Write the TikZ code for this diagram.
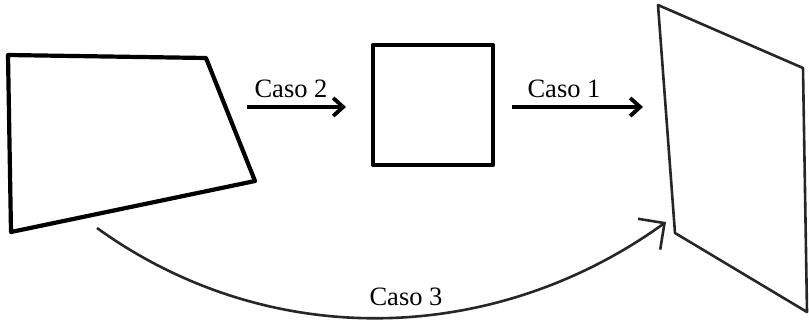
\documentclass[tikz,border=0pt]{standalone}
\usepackage{fontspec}
\setmainfont{Liberation Serif}
\usetikzlibrary{arrows.meta}
\begin{document}
\begin{tikzpicture}[x=1pt,y=-1pt,
  outline/.style={line width=4.2pt,line join=round},
  thinoutline/.style={line width=2.6pt,line join=round,draw=black!85},
  thickarrow/.style={line width=3.8pt,-{Straight Barb[length=10pt,width=18pt]}},
  curvearrow/.style={line width=2.6pt,draw=black!85,-{Straight Barb[length=19pt,width=38pt]}},
  lbl/.style={font=\fontsize{26.5}{28}\selectfont,inner sep=0pt}]
\useasboundingbox (0,0) rectangle (809,324);

% left quadrilateral
\draw[outline] (8,55) coordinate (L1) -- (206,58) coordinate (L2)
  -- (255,181) coordinate (L3) -- (11,232) coordinate (L4) -- cycle;

% square in the middle
\draw[outline,line width=4.6pt] (373,45) coordinate (S1) rectangle (493,165) coordinate (S2);

% right, tilted quadrilateral
\draw[thinoutline] (658,5) coordinate (R1) -- (803,68) coordinate (R2)
  -- (807,312) coordinate (R3) -- (675,233) coordinate (R4) -- cycle;

% arrows with their labels
\coordinate (a2s) at (247,107);
\coordinate (a2e) at (346,107);
\coordinate (a1s) at (512,107);
\coordinate (a1e) at (643,107);
\draw[thickarrow] (a2s) -- (a2e);
\draw[thickarrow] (a1s) -- (a1e);
\node[lbl] (c2) at (291,89) {Caso 2};
\node[lbl] (c1) at (564,89) {Caso 1};

% long curved arrow underneath
\coordinate (a3s) at (97,228);
\coordinate (a3e) at (666,222);
\draw[curvearrow] (a3s) .. controls (269,352) and (494,346) .. (a3e);
\node[lbl] (c3) at (406,297) {Caso 3};
\end{tikzpicture}
\end{document}
